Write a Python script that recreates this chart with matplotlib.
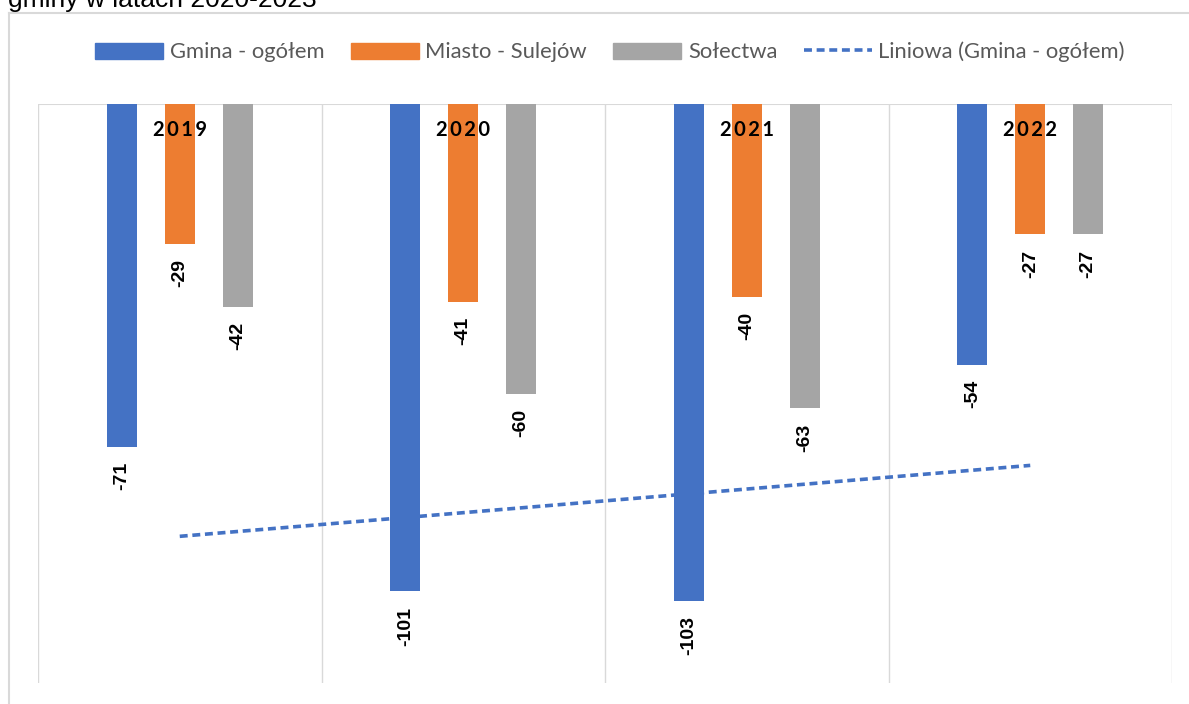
import matplotlib
matplotlib.use('Agg')

import matplotlib.pyplot as plt
import numpy as np
from matplotlib.lines import Line2D
from matplotlib.patches import Patch

years = ["2019", "2020", "2021", "2022"]
gmina = [-71, -101, -103, -54]
miasto = [-29, -41, -40, -27]
solectwa = [-42, -60, -63, -27]

series_names = ["Gmina - ogółem", "Miasto - Sulejów", "Sołectwa"]
trend_name = "Liniowa (Gmina - ogółem)"
title = "gminy w latach 2020-2023"

BLUE = "#4472C4"
ORANGE = "#ED7D31"
GRAY = "#A5A5A5"
GRID = "#D9D9D9"

fig = plt.figure(figsize=(11.89, 7.04), dpi=100)
ax = fig.add_axes([38 / 1189, 1 - 683 / 704, (1172 - 38) / 1189, (683 - 104) / 704])

x = np.arange(len(years))
w = 0.106
off = 0.204
for vals, dx, col in [(gmina, -off, BLUE), (miasto, 0, ORANGE), (solectwa, off, GRAY)]:
    bars = ax.bar(x + dx, vals, width=w, color=col, zorder=3)
    for b, v in zip(bars, vals):
        ax.annotate(str(v), (b.get_x() + b.get_width() / 2, v), xytext=(0, -11),
                    textcoords="offset points", rotation=90, ha="center", va="top",
                    fontsize=14, fontweight="bold", family="Liberation Sans", color="black")

# linear trend for Gmina
k, c = np.polyfit(x + 1, gmina, 1)
ax.plot(x, k * (x + 1) + c, color=BLUE, lw=2.6, linestyle=(0, (2.2, 1.3)), zorder=4)

# year labels, spaced out a little like the original
for i, y in enumerate(years):
    ax.text(i, -5.4, "\u2009".join(y), ha="center", va="center", fontsize=14.5,
            fontweight="bold", family=["Lato", "DejaVu Sans"], color="black", zorder=5)

ax.set_xlim(-0.5, len(years) - 0.5)
ax.set_ylim(-120, 0)
for b in np.arange(len(years) + 1) - 0.5:
    ax.axvline(b, color=GRID, lw=1, zorder=1)
ax.axhline(0, color=GRID, lw=1.5, zorder=2)
for s in ax.spines.values():
    s.set_visible(False)
ax.set_xticks([])
ax.set_yticks([])

# chart border (partly cut)
fig.add_artist(Line2D([9 / 1189, 9 / 1189], [0, 1 - 13 / 704], color=GRID, lw=1.5))
fig.add_artist(Line2D([9 / 1189, 1], [1 - 13 / 704, 1 - 13 / 704], color=GRID, lw=1.5))

fig.text(8 / 1189, 1 - 7 / 704, title, ha="left", va="baseline", fontsize=19,
         family="Liberation Sans", color="black")

handles = [Patch(color=BLUE), Patch(color=ORANGE), Patch(color=GRAY),
           Line2D([], [], color=BLUE, lw=2.6, linestyle=(0, (2.2, 1.3)))]
leg = fig.legend(handles, series_names + [trend_name], ncol=4, loc="center",
                 bbox_to_anchor=(610 / 1189, 1 - 52 / 704), frameon=False,
                 handlelength=3.1, handleheight=0.75, columnspacing=1.2, handletextpad=0.3,
                 prop={"family": "Lato", "size": 15.8})
for t in leg.get_texts():
    t.set_color("#595959")

plt.savefig("out.png", dpi=100)
